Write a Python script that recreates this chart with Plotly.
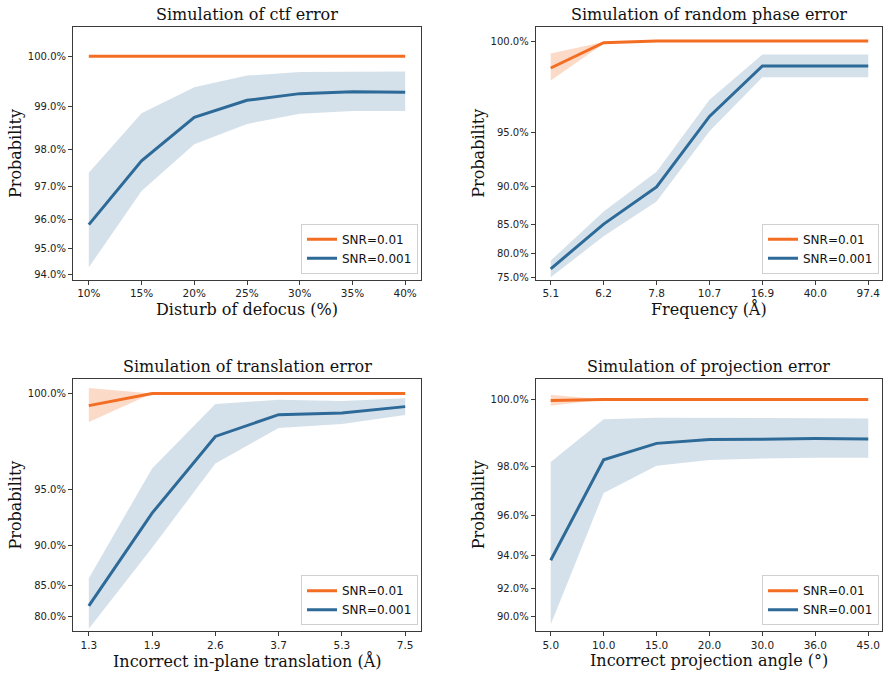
import numpy as np
import plotly.graph_objects as go

W, H = 883, 677

# ---------------- data ----------------
ctf_x = ["10%", "15%", "20%", "25%", "30%", "35%", "40%"]
ctf_hi_mean = [1.0, 1.0, 1.0, 1.0, 1.0, 1.0, 1.0]
ctf_hi_up = [1.0, 1.0, 1.0, 1.0, 1.0, 1.0, 1.0]
ctf_hi_lo = [1.0, 1.0, 1.0, 1.0, 1.0, 1.0, 1.0]
ctf_lo_mean = [0.9582, 0.9771, 0.9877, 0.9914, 0.9928, 0.9932, 0.9931]
ctf_lo_up = [0.9739, 0.9886, 0.9941, 0.9964, 0.9971, 0.9972, 0.9972]
ctf_lo_lo = [0.9429, 0.9687, 0.9813, 0.9862, 0.9885, 0.9891, 0.9891]

phase_x = ["5.1", "6.2", "7.8", "10.7", "16.9", "40.0", "97.4"]
phase_hi_mean = [0.9887, 0.9994, 1.0, 1.0, 1.0, 1.0, 1.0]
phase_hi_up = [0.9951, 0.9997, 1.0, 1.0, 1.0, 1.0, 1.0]
phase_hi_lo = [0.9826, 0.9990, 1.0, 1.0, 1.0, 1.0, 1.0]
phase_lo_mean = [0.7692, 0.8499, 0.8990, 0.9615, 0.9896, 0.9896, 0.9896]
phase_lo_up = [0.7862, 0.8682, 0.9155, 0.9720, 0.9947, 0.9947, 0.9947]
phase_lo_lo = [0.7510, 0.8305, 0.8814, 0.9510, 0.9843, 0.9843, 0.9843]

trans_x = ["1.3", "1.9", "2.6", "3.7", "5.3", "7.5"]
trans_hi_mean = [0.9954, 1.0, 1.0, 1.0, 1.0, 1.0]
trans_hi_up = [1.0019, 1.0, 1.0, 1.0, 1.0, 1.0]
trans_hi_lo = [0.9885, 1.0, 1.0, 1.0, 1.0, 1.0]
trans_lo_mean = [0.8183, 0.9314, 0.9818, 0.9917, 0.9924, 0.9950]
trans_lo_up = [0.8603, 0.9641, 0.9960, 0.9977, 0.9972, 0.9982]
trans_lo_lo = [0.7768, 0.8977, 0.9671, 0.9858, 0.9877, 0.9916]

proj_x = ["5.0", "10.0", "15.0", "20.0", "30.0", "36.0", "45.0"]
proj_hi_mean = [0.9998, 1.0, 1.0, 1.0, 1.0, 1.0, 1.0]
proj_hi_up = [1.0012, 1.0, 1.0, 1.0, 1.0, 1.0, 1.0]
proj_hi_lo = [0.9984, 1.0, 1.0, 1.0, 1.0, 1.0, 1.0]
proj_lo_mean = [0.9372, 0.9822, 0.9876, 0.9888, 0.9889, 0.9891, 0.9890]
proj_lo_up = [0.9814, 0.9948, 0.9952, 0.9952, 0.9951, 0.9951, 0.9950]
proj_lo_lo = [0.8938, 0.9698, 0.9801, 0.9821, 0.9826, 0.9829, 0.9829]

ctf_yticks = [0.94, 0.95, 0.96, 0.97, 0.98, 0.99, 1.00]
phase_yticks = [0.75, 0.80, 0.85, 0.90, 0.95, 1.00]
trans_yticks = [0.80, 0.85, 0.90, 0.95, 1.00]
proj_yticks = [0.90, 0.92, 0.94, 0.96, 0.98, 1.00]

titles = ["Simulation of ctf error", "Simulation of random phase error",
          "Simulation of translation error", "Simulation of projection error"]
xlabels = ["Disturb of defocus (%)", "Frequency (Å)",
           "Incorrect in-plane translation (Å)", "Incorrect projection angle (°)"]
series_names = ["SNR=0.01", "SNR=0.001"]

# ---------------- styling ----------------
ORANGE = "#f36d23"
BLUE = "#2d6a98"
ORANGE_FILL = "rgba(243,109,35,0.25)"
BLUE_FILL = "rgba(45,106,152,0.2)"
FRAME = "#3a3a3a"


def tr(p):
    # non-linear probability scale used on the y axes
    return -np.log(1.05 - np.asarray(p, dtype=float))


panels = [
    dict(x=ctf_x, hm=ctf_hi_mean, hu=ctf_hi_up, hl=ctf_hi_lo,
         lm=ctf_lo_mean, lu=ctf_lo_up, ll=ctf_lo_lo, ticks=ctf_yticks,
         px=(73, 421), py=(27.3, 281), xr=(-0.3, 6.3), yr=(0.938, 1.005)),
    dict(x=phase_x, hm=phase_hi_mean, hu=phase_hi_up, hl=phase_hi_lo,
         lm=phase_lo_mean, lu=phase_lo_up, ll=phase_lo_lo, ticks=phase_yticks,
         px=(535.7, 882), py=(27.3, 281), xr=(-0.284, 6.26), yr=(0.745, 1.005)),
    dict(x=trans_x, hm=trans_hi_mean, hu=trans_hi_up, hl=trans_hi_lo,
         lm=trans_lo_mean, lu=trans_lo_up, ll=trans_lo_lo, ticks=trans_yticks,
         px=(73, 421), py=(380.5, 634), xr=(-0.25, 5.25), yr=(0.772, 1.005)),
    dict(x=proj_x, hm=proj_hi_mean, hu=proj_hi_up, hl=proj_hi_lo,
         lm=proj_lo_mean, lu=proj_lo_up, ll=proj_lo_lo, ticks=proj_yticks,
         px=(535.7, 882), py=(380.5, 634), xr=(-0.284, 6.26), yr=(0.8885, 1.005)),
]

fig = go.Figure()
annotations = []
layout_upd = {}

for i, pn in enumerate(panels):
    k = "" if i == 0 else str(i + 1)
    xa, ya = "x" + k, "y" + k
    leg = "legend" + k
    idx = list(range(len(pn["x"])))
    poly_x = idx + idx[::-1]

    # bands
    for up, lo, fc in [(pn["hu"], pn["hl"], ORANGE_FILL), (pn["lu"], pn["ll"], BLUE_FILL)]:
        poly_y = list(tr(up)) + list(tr(lo))[::-1]
        fig.add_trace(go.Scatter(x=poly_x, y=poly_y, fill="toself", fillcolor=fc,
                                 mode="lines", line=dict(width=0), hoverinfo="skip",
                                 showlegend=False, xaxis=xa, yaxis=ya))
    # mean lines
    for name, m, col in [(series_names[0], pn["hm"], ORANGE), (series_names[1], pn["lm"], BLUE)]:
        fig.add_trace(go.Scatter(x=idx, y=tr(m), mode="lines", name=name,
                                 line=dict(color=col, width=3), legend=leg,
                                 xaxis=xa, yaxis=ya))

    x0, x1 = pn["px"]
    y0, y1 = pn["py"]
    dx = [x0 / W, x1 / W]
    dy = [1 - y1 / H, 1 - y0 / H]
    axis_common = dict(showline=True, linecolor=FRAME, linewidth=1, mirror=True,
                       ticks="outside", ticklen=4, tickcolor=FRAME, showgrid=False,
                       zeroline=False)
    layout_upd["xaxis" + k] = dict(domain=dx, anchor=ya, range=list(pn["xr"]),
                                   tickmode="array", tickvals=idx, ticktext=pn["x"],
                                   tickfont=dict(family="DejaVu Sans", size=10.5, color="#222"),
                                   **axis_common)
    layout_upd["yaxis" + k] = dict(domain=dy, anchor=xa,
                                   range=[float(tr(pn["yr"][0])), float(tr(pn["yr"][1]))],
                                   tickmode="array", tickvals=list(tr(pn["ticks"])),
                                   ticktext=[f"{t*100:.1f}%" for t in pn["ticks"]],
                                   tickfont=dict(family="DejaVu Sans", size=10, color="#222"),
                                   **axis_common)
    layout_upd[leg] = dict(x=(x1 - 3) / W, y=1 - (y1 - 6) / H, xanchor="right",
                           yanchor="bottom", bgcolor="white", bordercolor="#d0d0d0",
                           borderwidth=1, font=dict(family="DejaVu Sans", size=12, color="#111"),
                           itemwidth=30, tracegroupgap=0)

    cx = (x0 + x1) / 2
    annotations.append(dict(text=titles[i], x=cx / W, y=1 - (y0 - 12.5) / H,
                            xref="paper", yref="paper", xanchor="center", yanchor="middle",
                            showarrow=False, font=dict(family="DejaVu Serif", size=16, color="#111")))
    annotations.append(dict(text=xlabels[i], x=cx / W, y=1 - (y1 + 29.5) / H,
                            xref="paper", yref="paper", xanchor="center", yanchor="middle",
                            showarrow=False, font=dict(family="DejaVu Serif", size=16, color="#111")))
    annotations.append(dict(text="Probability", x=(x0 - 57.5) / W, y=1 - ((y0 + y1) / 2) / H,
                            xref="paper", yref="paper", xanchor="center", yanchor="middle",
                            textangle=-90, showarrow=False,
                            font=dict(family="DejaVu Serif", size=16, color="#111")))

fig.update_layout(width=W, height=H, margin=dict(l=0, r=0, t=0, b=0),
                  paper_bgcolor="white", plot_bgcolor="white",
                  annotations=annotations, **layout_upd)

fig.write_html("out.html")
